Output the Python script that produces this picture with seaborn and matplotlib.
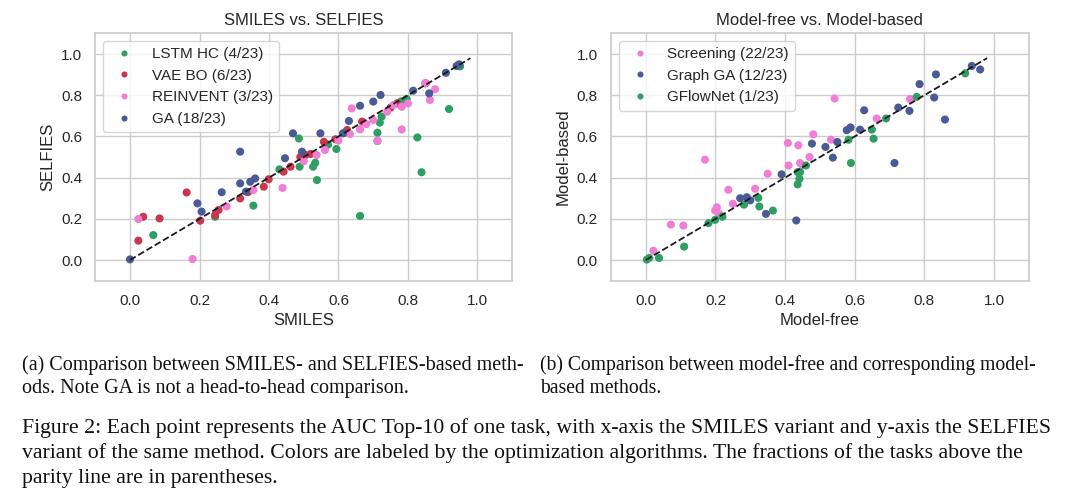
import numpy as np
import pandas as pd
import matplotlib
matplotlib.use("Agg")
import matplotlib.pyplot as plt
import seaborn as sns

# ---- panel (a): SMILES (x) vs SELFIES (y), AUC Top-10 per task ----
lstm_hc_x = [0.067, 0.245, 0.355, 0.43, 0.488, 0.486, 0.527, 0.533, 0.538, 0.57, 0.594,
             0.62, 0.662, 0.712, 0.712, 0.719, 0.724, 0.78, 0.796, 0.827, 0.839, 0.918, 0.95]
lstm_hc_y = [0.121, 0.21, 0.264, 0.44, 0.453, 0.59, 0.453, 0.472, 0.388, 0.56, 0.539,
             0.62, 0.214, 0.618, 0.578, 0.667, 0.696, 0.77, 0.782, 0.595, 0.426, 0.733, 0.94]

vae_bo_x = [0.024, 0.038, 0.085, 0.163, 0.202, 0.245, 0.255, 0.317, 0.34, 0.385, 0.399, 0.442,
            0.462, 0.49, 0.505, 0.52, 0.558, 0.591, 0.625, 0.668, 0.75, 0.769, 0.851]
vae_bo_y = [0.094, 0.21, 0.202, 0.328, 0.191, 0.218, 0.243, 0.299, 0.33, 0.356, 0.392, 0.429,
            0.453, 0.50, 0.51, 0.515, 0.574, 0.586, 0.631, 0.672, 0.74, 0.761, 0.858]

reinvent_x = [0.024, 0.18, 0.278, 0.355, 0.439, 0.537, 0.561, 0.60, 0.633, 0.638, 0.662,
              0.70, 0.712, 0.74, 0.758, 0.782, 0.782, 0.80, 0.849, 0.863, 0.878, 0.68, 0.50]
reinvent_y = [0.199, 0.005, 0.26, 0.34, 0.35, 0.51, 0.534, 0.58, 0.612, 0.736, 0.634,
              0.68, 0.578, 0.72, 0.752, 0.634, 0.744, 0.76, 0.858, 0.777, 0.829, 0.66, 0.48]

ga_x = [0.0, 0.194, 0.206, 0.264, 0.317, 0.317, 0.334, 0.346, 0.36, 0.446, 0.469, 0.495,
        0.548, 0.613, 0.63, 0.662, 0.70, 0.721, 0.815, 0.861, 0.909, 0.94, 0.947]
ga_y = [0.003, 0.275, 0.235, 0.329, 0.526, 0.372, 0.332, 0.38, 0.396, 0.494, 0.615, 0.526,
        0.615, 0.615, 0.675, 0.749, 0.769, 0.801, 0.822, 0.809, 0.909, 0.942, 0.95]

# ---- panel (b): model-free (x) vs model-based (y) ----
screening_x = [0.022, 0.072, 0.108, 0.17, 0.199, 0.204, 0.21, 0.237, 0.25, 0.314, 0.35, 0.408,
               0.41, 0.438, 0.443, 0.45, 0.47, 0.481, 0.532, 0.542, 0.587, 0.663, 0.759]
screening_y = [0.045, 0.172, 0.167, 0.487, 0.24, 0.256, 0.225, 0.341, 0.273, 0.346, 0.419, 0.568,
               0.459, 0.557, 0.471, 0.46, 0.50, 0.61, 0.584, 0.784, 0.643, 0.687, 0.781]

graph_ga_x = [0.271, 0.29, 0.345, 0.39, 0.432, 0.477, 0.516, 0.537, 0.55, 0.577, 0.588, 0.615,
              0.627, 0.714, 0.725, 0.757, 0.786, 0.828, 0.833, 0.859, 0.936, 0.96, 0.30]
graph_ga_y = [0.30, 0.305, 0.224, 0.416, 0.192, 0.565, 0.549, 0.497, 0.573, 0.63, 0.643, 0.633,
              0.727, 0.471, 0.74, 0.724, 0.854, 0.789, 0.901, 0.682, 0.942, 0.925, 0.29]

gflownet_x = [0.003, 0.01, 0.038, 0.11, 0.18, 0.199, 0.22, 0.282, 0.323, 0.326, 0.365, 0.436,
              0.441, 0.443, 0.436, 0.46, 0.582, 0.589, 0.649, 0.654, 0.69, 0.778, 0.917]
gflownet_y = [0.002, 0.01, 0.01, 0.065, 0.179, 0.195, 0.21, 0.269, 0.302, 0.26, 0.24, 0.367,
              0.394, 0.427, 0.427, 0.459, 0.584, 0.471, 0.633, 0.589, 0.687, 0.792, 0.906]

left_labels = ["LSTM HC (4/23)", "VAE BO (6/23)", "REINVENT (3/23)", "GA (18/23)"]
right_labels = ["Screening (22/23)", "Graph GA (12/23)", "GFlowNet (1/23)"]

GREEN = "#2e9e62"
RED = "#c8374d"
PINK = "#f07dd6"
BLUE = "#4a5a94"


def make_frame(xs, ys, labels):
    parts = []
    for x, y, lab in zip(xs, ys, labels):
        parts.append(pd.DataFrame({"x": x, "y": y, "method": lab}))
    return pd.concat(parts, ignore_index=True)


df_a = make_frame([lstm_hc_x, vae_bo_x, reinvent_x, ga_x],
                  [lstm_hc_y, vae_bo_y, reinvent_y, ga_y], left_labels)
df_b = make_frame([screening_x, graph_ga_x, gflownet_x],
                  [screening_y, graph_ga_y, gflownet_y], right_labels)

sns.set_theme(style="whitegrid")
plt.rcParams["font.family"] = ["Liberation Sans", "DejaVu Sans"]

fig = plt.figure(figsize=(10.8, 4.98), dpi=100)
ax1 = fig.add_axes([0.0882, 0.4365, 0.3861, 0.4964])
ax2 = fig.add_axes([0.5657, 0.4365, 0.3870, 0.4964])


def panel(ax, df, palette, title, xlabel, ylabel):
    sns.scatterplot(data=df, x="x", y="y", hue="method", palette=palette,
                    s=34, linewidth=0, ax=ax)
    ax.plot([0, 0.98], [0, 0.98], "k--", lw=1.3)
    ax.set_xlim(-0.1, 1.1)
    ax.set_ylim(-0.1, 1.1)
    ax.set_xticks(np.arange(0, 1.01, 0.2))
    ax.set_yticks(np.arange(0, 1.01, 0.2))
    ax.set_title(title, fontsize=12)
    ax.set_xlabel(xlabel, fontsize=12)
    ax.set_ylabel(ylabel, fontsize=12)
    ax.tick_params(labelsize=11)
    ax.legend(loc="upper left", fontsize=11, markerscale=0.75)


panel(ax1, df_a, [GREEN, RED, PINK, BLUE], "SMILES vs. SELFIES", "SMILES", "SELFIES")
panel(ax2, df_b, [PINK, BLUE, GREEN], "Model-free vs. Model-based", "Model-free", "Model-based")

# captions
serif = ["Liberation Serif", "DejaVu Serif"]
cap_kw = dict(family=serif, fontsize=14.5, color="#111111", va="center", ha="left")
fig.text(22 / 1080, 1 - 365 / 498, "(a) Comparison between SMILES- and SELFIES-based meth-", **cap_kw)
fig.text(22 / 1080, 1 - 388 / 498, "ods. Note GA is not a head-to-head comparison.", **cap_kw)
fig.text(540 / 1080, 1 - 365 / 498, "(b) Comparison between model-free and corresponding model-",
         **dict(cap_kw, fontsize=14.1))
fig.text(540 / 1080, 1 - 388 / 498, "based methods.", **dict(cap_kw, fontsize=14.1))

main_kw = dict(cap_kw, fontsize=15.7)
fig.text(22 / 1080, 1 - 428 / 498,
         "Figure 2: Each point represents the AUC Top-10 of one task, with x-axis the SMILES variant and y-axis the SELFIES",
         **main_kw)
fig.text(22 / 1080, 1 - 453 / 498,
         "variant of the same method. Colors are labeled by the optimization algorithms. The fractions of the tasks above the",
         **main_kw)
fig.text(22 / 1080, 1 - 478 / 498, "parity line are in parentheses.", **main_kw)

fig.savefig("out.png", dpi=100)
